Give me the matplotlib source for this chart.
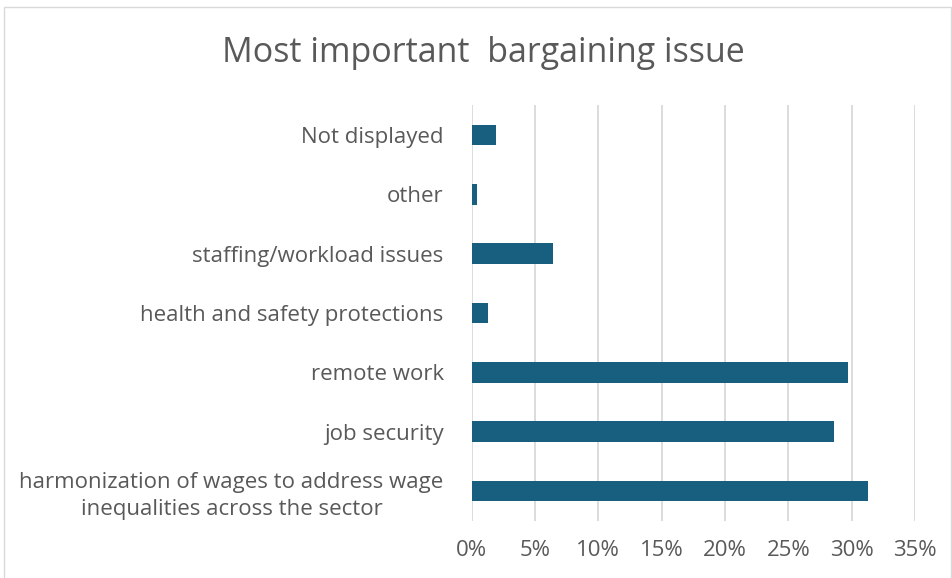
import matplotlib
matplotlib.use('Agg')
import matplotlib.pyplot as plt
from matplotlib.patches import Rectangle
from matplotlib.ticker import FuncFormatter

# survey answers, bottom to top as drawn
issues = [
    "harmonization of wages to address wage\ninequalities across the sector",
    "job security",
    "remote work",
    "health and safety protections",
    "staffing/workload issues",
    "other",
    "Not displayed",
]
shares = [31.3, 28.6, 29.7, 1.3, 6.4, 0.4, 1.9]
x_ticks = [0, 5, 10, 15, 20, 25, 30, 35]

BAR_COLOR = "#185f7f"
TEXT_COLOR = "#595959"
GRID_COLOR = "#d9d9d9"

plt.rcParams['font.family'] = ['Open Sans', 'DejaVu Sans']

fig = plt.figure(figsize=(9.52, 5.78), dpi=100)
ax = fig.add_axes([0.4953, 0.0993, 0.4659, 0.7183])

ax.barh(range(len(issues)), shares, height=0.35, color=BAR_COLOR, zorder=3)

ax.set_xlim(0, 35)
ax.set_ylim(-0.5, len(issues) - 0.5)
ax.set_xticks(x_ticks)
ax.xaxis.set_major_formatter(FuncFormatter(lambda v, _: f"{v:.0f}%"))
ax.set_yticks(range(len(issues)))
ax.set_yticklabels(issues, multialignment='center', linespacing=1.35)

ax.tick_params(axis='both', length=0, colors=TEXT_COLOR, labelsize=16)
ax.tick_params(axis='x', pad=14)
ax.tick_params(axis='y', pad=20)
ax.grid(axis='x', color=GRID_COLOR, linewidth=1.3, zorder=0)
for side in ax.spines.values():
    side.set_visible(False)

fig.text(0.508, 0.908, "Most important  bargaining issue", ha='center', va='center',
         fontsize=24.5, color=TEXT_COLOR)

# thin frame around the chart area
fig.patches.append(Rectangle((0.004, -0.01), 0.995, 0.998, transform=fig.transFigure,
                             fill=False, edgecolor=GRID_COLOR, linewidth=1.0))

fig.savefig("out.png", dpi=100, facecolor='white')
